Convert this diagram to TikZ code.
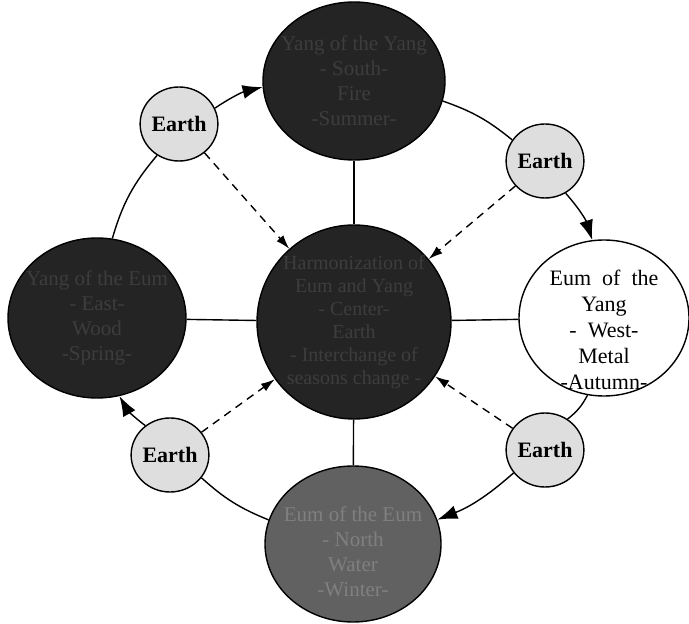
\documentclass[tikz,border=0pt]{standalone}
\usepackage{fontspec}
\setmainfont{Liberation Serif}
\usetikzlibrary{shapes.geometric,arrows.meta}

\begin{document}
\begin{tikzpicture}[x=0.5pt,y=-0.5pt,line width=0.7pt,
  season/.style={ellipse,draw,inner sep=0pt},
  darkseason/.style={season,fill=black!86},
  words/.style={align=center,inner sep=0pt,font=\fontsize{11}{13}\selectfont},
  darkwords/.style={words,text=black!76,font=\fontsize{10.5}{12.5}\selectfont},
  earth/.style={ellipse,draw,fill=black!13,minimum width=37pt,minimum height=37pt,inner sep=0pt,font=\bfseries\fontsize{11}{13}\selectfont},
  flow/.style={-{Latex[length=10pt,width=7pt]}},
  feed/.style={dash pattern=on 4pt off 3pt,-{Latex[length=7pt,width=4.5pt]}}]

\useasboundingbox (0,0) rectangle (689,624);

% the five seasons
\node[darkseason,minimum width=91pt,minimum height=79pt] (summer) at (354,81) {};
\node[darkseason,minimum width=89pt,minimum height=80pt] (spring) at (97,318) {};
\node[darkseason,minimum width=97pt,minimum height=97pt] (centre) at (354,322) {};
\node[season,minimum width=85pt,minimum height=78pt] (autumn) at (604,318) {};
\node[darkseason,fill=black!62,minimum width=88pt,minimum height=78pt] (winter) at (353,544) {};

\node[darkwords] at (summer) {Yang of the Yang\\ - South-\\ Fire\\ -Summer-};
\node[darkwords] at (spring) {Yang of the Eum\\ - East-\\ Wood\\ -Spring-};
\node[darkwords,font=\fontsize{10}{11.5}\selectfont] at (centre)
  {Harmonization of\\ Eum and Yang\\ - Center-\\ Earth\\ - Interchange of\\ seasons change -};
\node[words] at ([yshift=-6pt]autumn) {Eum~ of~ the\\ Yang\\ - ~West-\\ Metal\\ -Autumn-};
\node[darkwords,text=black!50] at ([yshift=-4pt]winter) {Eum of the Eum\\ - North\\ Water\\ -Winter-};

% the four earths
\node[earth] (earthA) at (179,124) {Earth};
\node[earth] (earthB) at (545,161) {Earth};
\node[earth] (earthC) at (545,450) {Earth};
\node[earth] (earthD) at (170,455) {Earth};

% cross
\draw (centre) -- (summer);
\draw (centre) -- (autumn);
\draw (centre) -- (winter);
\draw (centre) -- (spring);

% ring
\draw (spring) to[bend left=12] (earthA);
\draw[flow] (earthA) to[bend left=10] (summer);
\draw (summer) to[bend left=10] (earthB);
\draw[flow] (earthB) to[bend left=12] (autumn);
\draw (autumn) to[bend left=12] (earthC);
\draw[flow] (earthC) to[bend left=10] (winter);
\draw (winter) to[bend left=10] (earthD);
\draw[flow] (earthD) to[bend left=12] (spring);

% earth to centre
\draw[feed] (earthA) -- (centre);
\draw[feed] (earthB) -- (centre);
\draw[feed] (earthC) -- (centre);
\draw[feed] (earthD) -- (centre);

\end{tikzpicture}
\end{document}
